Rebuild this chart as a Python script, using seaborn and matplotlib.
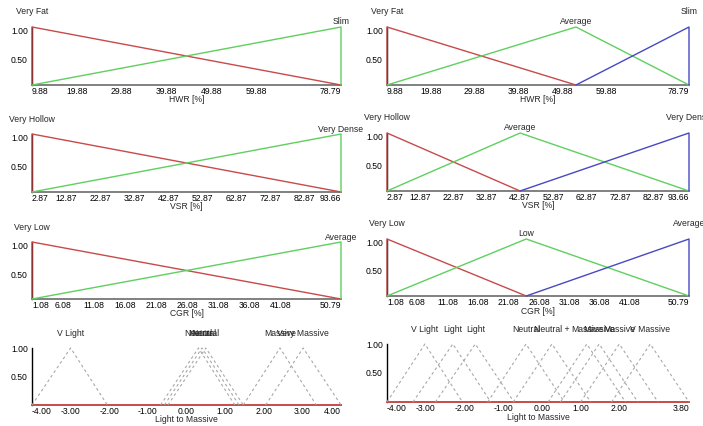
import numpy as np
import pandas as pd
import matplotlib
matplotlib.use("Agg")
import matplotlib.pyplot as plt
import seaborn as sns

# fuzzy terms, each one as (left foot, peak, right foot); membership 0 -> 1 -> 0
hwr_ticks = [9.88, 19.88, 29.88, 39.88, 49.88, 59.88, 78.79]
hwr2_terms = ["Very Fat", "Slim"]
hwr2_abc = [(9.88, 9.88, 78.79), (9.88, 78.79, 78.79)]
hwr3_terms = ["Very Fat", "Average", "Slim"]
hwr3_abc = [(9.88, 9.88, 53.0), (9.88, 53.0, 78.79), (53.0, 78.79, 78.79)]

vsr_ticks = [2.87, 12.87, 22.87, 32.87, 42.87, 52.87, 62.87, 72.87, 82.87, 93.66]
vsr2_terms = ["Very Hollow", "Very Dense"]
vsr2_abc = [(2.87, 2.87, 93.66), (2.87, 93.66, 93.66)]
vsr3_terms = ["Very Hollow", "Average", "Very Dense"]
vsr3_abc = [(2.87, 2.87, 42.87), (2.87, 42.87, 93.66), (42.87, 93.66, 93.66)]

cgr_ticks = [1.08, 6.08, 11.08, 16.08, 21.08, 26.08, 31.08, 36.08, 41.08, 50.79]
cgr2_terms = ["Very Low", "Average"]
cgr2_abc = [(1.08, 1.08, 50.79), (1.08, 50.79, 50.79)]
cgr3_terms = ["Very Low", "Low", "Average"]
cgr3_abc = [(1.08, 1.08, 24.0), (1.08, 24.0, 50.79), (24.0, 50.79, 50.79)]

mass_ticks_l = [-4.0, -3.0, -2.0, -1.0, 0.0, 1.0, 2.0, 3.0, 4.0]
mass_terms_l = ["V Light", "Neutral", "Neutral", "Neutral", "Massive", "Very Massive"]
mass_abc_l = [(-4.0, -3.0, -2.05), (-0.67, 0.31, 1.25), (-0.57, 0.40, 1.36),
              (-0.48, 0.50, 1.47), (1.47, 2.42, 3.36), (2.05, 3.02, 4.0)]

mass_ticks_r = [-4.0, -3.0, -2.0, -1.0, 0.0, 1.0, 2.0, 3.8]
mass_terms_r = ["V Light", "Light", "Light", "Neutral", "Neutral +",
                "Massive", "Massive", "Massive", "V Massive"]
mass_abc_r = [(-4.0, -3.02, -2.05), (-3.33, -2.30, -1.32), (-2.75, -1.72, -0.72),
              (-1.40, -0.41, 0.58), (-0.74, 0.26, 1.26), (0.16, 1.16, 2.16),
              (0.48, 1.48, 2.48), (1.0, 2.0, 3.0), (1.8, 2.8, 3.8)]

W, H = 703, 426
FS = 6.2
COLS = ["#c84a4a", "#5fd05f", "#4848c4"]
GREY = "#a8a8a8"

sns.set_style("white")
plt.rcParams["font.family"] = ["Liberation Sans", "DejaVu Sans"]

fig = plt.figure(figsize=(W / 100, H / 100), dpi=100)


def term_frame(abc):
    rows = []
    for i, (a, b, c) in enumerate(abc):
        rows += [(i, a, 0.0), (i, b, 1.0), (i, c, 0.0)]
    return pd.DataFrame(rows, columns=["id", "x", "mu"])


def draw_panel(box, terms, abc, ticks, title, dashed=False):
    x0, x1, ytop, ybot = box
    ax = fig.add_axes([x0 / W, (H - ybot) / H, (x1 - x0) / W, (ybot - ytop) / H])
    df = term_frame(abc)
    if dashed:
        sns.lineplot(data=df, x="x", y="mu", units="id", estimator=None, sort=False,
                     color=GREY, lw=0.8, linestyle=(0, (2.5, 2.5)), ax=ax)
    else:
        df["term"] = [terms[i] for i in df["id"]]
        sns.lineplot(data=df, x="x", y="mu", hue="term", hue_order=terms,
                     palette=COLS[:len(terms)], estimator=None, sort=False,
                     lw=1.0, legend=False, ax=ax)
    for ln in ax.lines:
        ln.set_clip_on(False)
        ln.set_zorder(3)

    ax.set_xlim(ticks[0], ticks[-1])
    ax.set_ylim(0, 1)
    ax.set_xlabel("")
    ax.set_ylabel("")
    for s in ["top", "right"]:
        ax.spines[s].set_visible(False)
    ax.spines["left"].set_color("black")
    ax.spines["left"].set_linewidth(1.0)
    ax.spines["bottom"].set_color(COLS[0] if dashed else "#808080")
    ax.spines["bottom"].set_linewidth(1.4)

    ax.set_xticks(ticks)
    ax.set_xticklabels([f"{v:.2f}" for v in ticks])
    ax.set_yticks([0.5, 1.0])
    ax.set_yticklabels(["0.50", "1.00"])
    ax.tick_params(length=0, labelsize=FS, colors="black")
    ax.tick_params(axis="x", pad=1.5)
    ax.tick_params(axis="y", pad=3)
    xl = ax.get_xticklabels()
    xl[0].set_ha("left")
    xl[-1].set_ha("right")
    if not dashed:
        for lab in ax.get_yticklabels():
            lab.set_va("top")

    for i, (t, (a, b, c)) in enumerate(zip(terms, abc)):
        dy = 5 if (not dashed and i % 2 == 1) else 15
        ax.annotate(t, xy=(b, 1), xytext=(0, dy), textcoords="offset pixels",
                    ha="center", va="center", fontsize=FS, annotation_clip=False)
    ax.annotate(title, xy=(0.5, 0), xycoords="axes fraction", xytext=(0, -15),
                textcoords="offset pixels", ha="center", va="center", fontsize=FS)
    return ax


draw_panel((32, 341, 27, 85), hwr2_terms, hwr2_abc, hwr_ticks, "HWR [%]")
draw_panel((387, 689, 27, 85), hwr3_terms, hwr3_abc, hwr_ticks, "HWR [%]")
draw_panel((32, 341, 134, 192), vsr2_terms, vsr2_abc, vsr_ticks, "VSR [%]")
draw_panel((387, 689, 133, 191), vsr3_terms, vsr3_abc, vsr_ticks, "VSR [%]")
draw_panel((32, 341, 242, 299), cgr2_terms, cgr2_abc, cgr_ticks, "CGR [%]")
draw_panel((387, 689, 239, 296), cgr3_terms, cgr3_abc, cgr_ticks, "CGR [%]")
draw_panel((32, 341, 348, 405), mass_terms_l, mass_abc_l, mass_ticks_l,
           "Light to Massive", dashed=True)
draw_panel((387, 689, 344, 402), mass_terms_r, mass_abc_r, mass_ticks_r,
           "Light to Massive", dashed=True)

fig.savefig("out.png", dpi=100, facecolor="white")
